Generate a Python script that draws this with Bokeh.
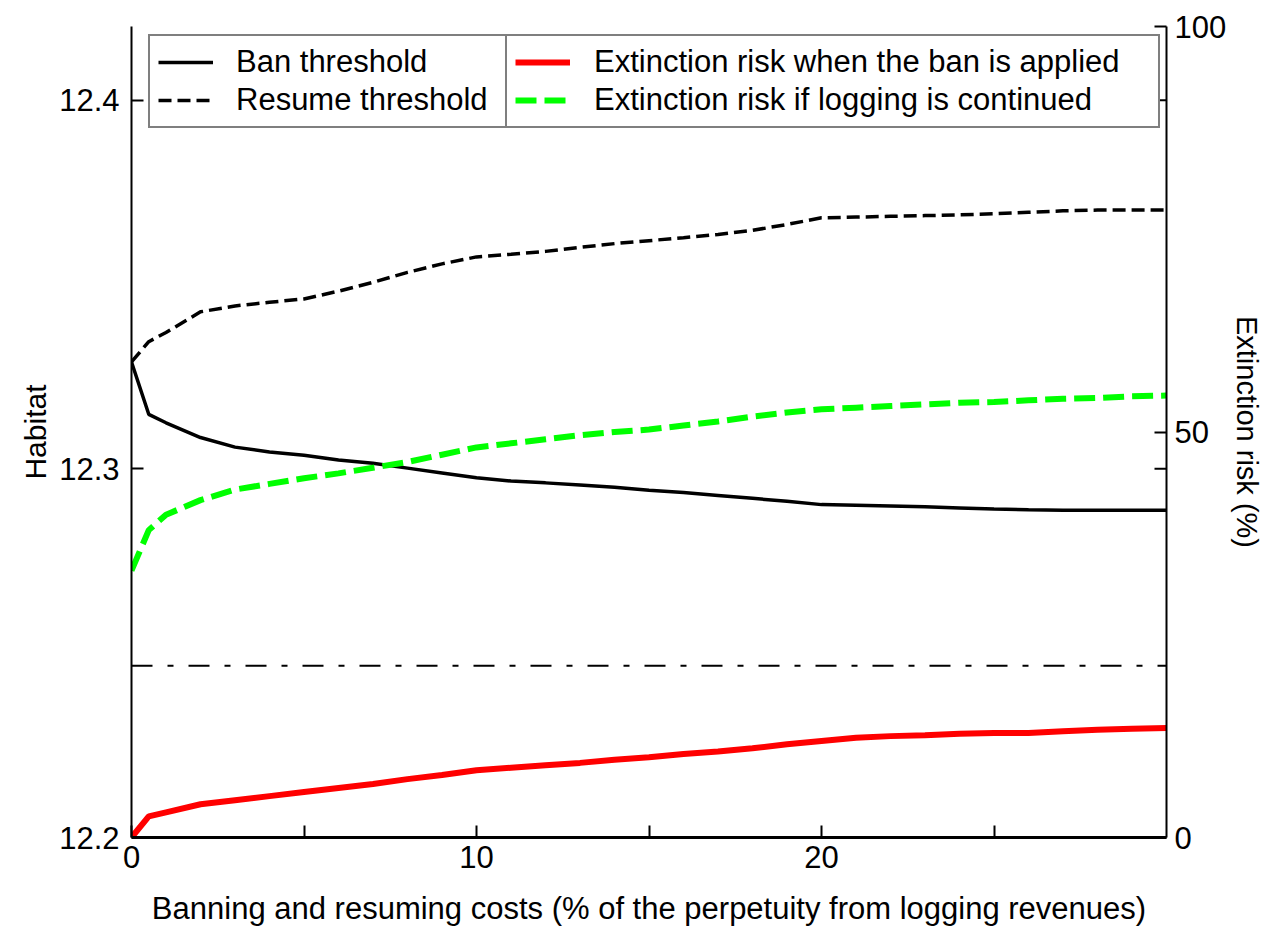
from bokeh.plotting import figure
from bokeh.models import Range1d, LinearAxis, FixedTicker, Legend, LegendItem, Span
from bokeh.embed import file_html
from bokeh.resources import INLINE

# ---- data ----
cost = [0, 0.5, 1, 2, 3, 4, 5, 6, 7, 8, 9, 10, 11, 12, 13, 14, 15, 16, 17, 18,
        19, 20, 21, 22, 23, 24, 25, 26, 27, 28, 29, 30]

ban_threshold = [12.329, 12.3148, 12.3125, 12.3085, 12.3059, 12.3046, 12.3037, 12.3024,
                 12.3015, 12.3002, 12.2989, 12.2976, 12.2967, 12.2962, 12.2956, 12.2950,
                 12.2942, 12.2936, 12.2928, 12.2920, 12.2912, 12.2903, 12.2901, 12.2899,
                 12.2897, 12.2894, 12.2891, 12.2889, 12.2888, 12.2888, 12.2888, 12.2888]

resume_threshold = [12.329, 12.3345, 12.337, 12.3426, 12.3442, 12.3452, 12.3461, 12.3482,
                    12.3506, 12.3533, 12.3556, 12.3575, 12.3582, 12.3590, 12.3601, 12.3611,
                    12.3619, 12.3627, 12.3636, 12.3647, 12.3663, 12.3681, 12.3683, 12.3685,
                    12.3687, 12.3689, 12.3692, 12.3696, 12.3700, 12.3702, 12.3702, 12.3702]

risk_ban = [0.0, 2.6, 3.1, 4.1, 4.6, 5.1, 5.6, 6.1, 6.6, 7.2, 7.7, 8.3, 8.6, 8.9, 9.2, 9.6,
            9.9, 10.3, 10.6, 11.0, 11.5, 11.9, 12.3, 12.5, 12.6, 12.8, 12.9, 12.9, 13.1,
            13.3, 13.4, 13.5]

risk_logging = [32.9, 37.9, 39.8, 41.6, 42.9, 43.6, 44.3, 44.9, 45.6, 46.3, 47.2, 48.1, 48.6,
                49.1, 49.6, 50.0, 50.3, 50.8, 51.3, 51.9, 52.4, 52.8, 53.0, 53.2, 53.4, 53.6,
                53.7, 53.9, 54.1, 54.2, 54.4, 54.5]

reference_habitat = 12.2466

x_major_ticks = [0, 10, 20]
x_minor_ticks = [5, 15, 25]
habitat_ticks = [12.2, 12.3, 12.4]
risk_ticks = [0, 50, 100]

labels = ["Ban threshold", "Resume threshold",
          "Extinction risk when the ban is applied", "Extinction risk if logging is continued"]

FONT = "Liberation Sans"
X_MIN, X_MAX = 0, 30

p = figure(frame_width=1035, frame_height=811,
           x_range=Range1d(X_MIN, X_MAX), y_range=Range1d(12.2, 12.42),
           output_backend="svg", toolbar_location=None,
           min_border_left=131, min_border_right=105, min_border_top=26, min_border_bottom=82,
           x_axis_label="Banning and resuming costs (% of the perpetuity from logging revenues)",
           y_axis_label="Habitat")
p.extra_y_ranges = {"risk": Range1d(0, 100)}
p.outline_line_color = None
p.xgrid.grid_line_color = None
p.ygrid.grid_line_color = None
p.background_fill_color = "white"
p.border_fill_color = "white"

# right axis
raxis = LinearAxis(y_range_name="risk", axis_label="Extinction risk (%)")
p.add_layout(raxis, "right")

p.xaxis.ticker = FixedTicker(ticks=x_major_ticks, minor_ticks=x_minor_ticks)
p.yaxis[0].ticker = FixedTicker(ticks=habitat_ticks, minor_ticks=[])
raxis.ticker = FixedTicker(ticks=risk_ticks, minor_ticks=[])

for ax in [p.xaxis[0], p.yaxis[0], raxis]:
    ax.axis_line_color = "black"
    ax.axis_line_width = 2
    ax.major_tick_in = 12
    ax.major_tick_out = 0
    ax.minor_tick_in = 12
    ax.minor_tick_out = 0
    ax.major_tick_line_width = 2
    ax.minor_tick_line_width = 2
    ax.major_tick_line_color = "black"
    ax.minor_tick_line_color = "black"
    ax.major_label_text_font = FONT
    ax.major_label_text_font_size = "31px"
    ax.major_label_text_color = "black"
    ax.axis_label_text_font = FONT
    ax.axis_label_text_font_style = "normal"
    ax.axis_label_text_color = "black"

p.xaxis[0].axis_label_text_font_size = "31px"
p.yaxis[0].axis_label_text_font_size = "30px"
raxis.axis_label_text_font_size = "29px"

p.xaxis[0].axis_line_width = 3
p.xaxis[0].major_label_standoff = 8
p.xaxis[0].axis_label_standoff = 20
p.yaxis[0].major_label_standoff = 12
p.yaxis[0].axis_label_standoff = 4
raxis.major_label_standoff = 8
raxis.axis_label_standoff = 2

# curves
r_ban = p.line(cost, ban_threshold, line_color="black", line_width=3.5)
r_res = p.line(cost, resume_threshold, line_color="black", line_width=3.5, line_dash="13 6")
r_red = p.line(cost, risk_ban, y_range_name="risk", line_color="#ff0000", line_width=6)
r_green = p.line(cost, risk_logging, y_range_name="risk", line_color="#00ff00", line_width=6,
                 line_dash="21 8")

p.add_layout(Span(location=reference_habitat, dimension="width", line_color="black",
                  line_width=2, line_dash="21 15 6 15"))

# left-axis ticks mirrored on the right spine
tick_dx = (X_MAX - X_MIN) * 12 / 1035
p.segment(x0=[X_MAX - tick_dx] * len(habitat_ticks), x1=[X_MAX] * len(habitat_ticks),
          y0=habitat_ticks, y1=habitat_ticks, line_color="black", line_width=2)

def make_legend(items, loc, label_width, standoff):
    lg = Legend(items=items, location=loc, orientation="vertical", margin=0,
                padding=8, spacing=2, glyph_width=55, glyph_height=30, label_height=30,
                label_standoff=standoff, label_width=label_width,
                label_text_font=FONT, label_text_font_size="31px", label_text_color="black",
                border_line_color="black", border_line_width=2,
                background_fill_color="white", background_fill_alpha=1.0)
    return lg

leg1 = make_legend([LegendItem(label=labels[0], renderers=[r_ban]),
                    LegendItem(label=labels[1], renderers=[r_res])], (17, 709), 263, 23)
leg2 = make_legend([LegendItem(label=labels[2], renderers=[r_red]),
                    LegendItem(label=labels[3], renderers=[r_green])], (374, 709), 556, 24)
p.add_layout(leg1, "center")
p.add_layout(leg2, "center")

open("out.html", "w").write(file_html(p, INLINE))
